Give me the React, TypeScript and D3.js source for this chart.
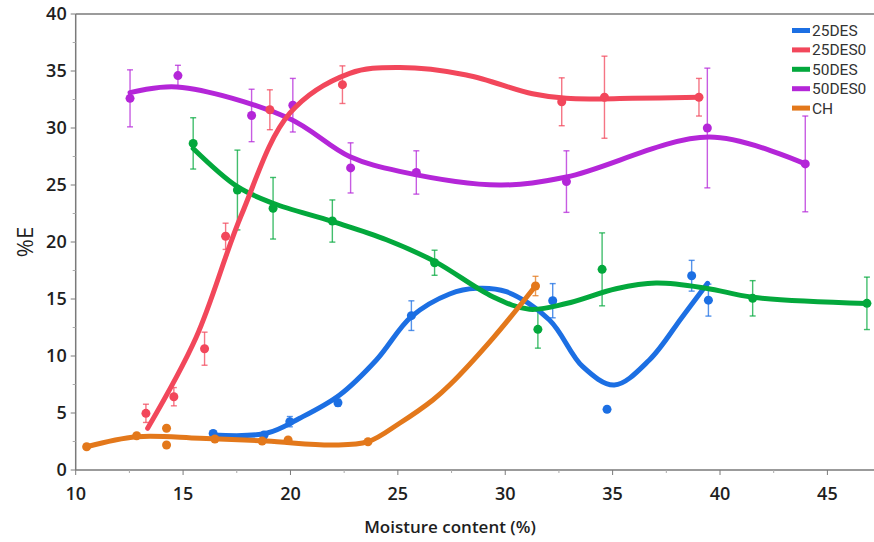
import React from "react";
import * as d3 from "d3";

// ---------- data ----------
const SERIES_NAMES = ["25DES", "25DES0", "50DES", "50DES0", "CH"];
const SERIES_COLORS = ["#1c6fe3", "#f2475b", "#03a83c", "#b426d8", "#e3781b"];

// measured points (moisture %, %E, error)
const DES25_X = [16.4, 18.77, 19.97, 22.21, 25.63, 32.21, 34.74, 38.68, 39.46];
const DES25_Y = [3.2, 3.07, 4.24, 5.9, 13.54, 14.85, 5.32, 17.04, 14.9];
const DES25_E = [0.2, 0.2, 0.45, 0.3, 1.3, 1.5, 0.25, 1.35, 1.4];

const DES250_X = [13.27, 14.57, 16.0, 16.98, 19.04, 22.42, 32.63, 34.62, 39.02];
const DES250_Y = [4.97, 6.43, 10.64, 20.5, 31.6, 33.8, 32.3, 32.7, 32.7];
const DES250_E = [0.8, 0.8, 1.45, 1.15, 1.75, 1.65, 2.1, 3.6, 1.65];

const DES50_X = [15.47, 17.53, 19.19, 21.95, 26.71, 31.52, 34.51, 41.52, 46.84];
const DES50_Y = [28.65, 24.56, 22.96, 21.84, 18.18, 12.34, 17.6, 15.06, 14.62];
const DES50_E = [2.25, 3.5, 2.7, 1.85, 1.1, 1.65, 3.2, 1.55, 2.3];

const DES500_X = [12.53, 14.76, 18.19, 20.11, 22.8, 25.86, 32.85, 39.41, 43.97];
const DES500_Y = [32.6, 34.6, 31.1, 32.0, 26.5, 26.1, 25.3, 30.0, 26.85];
const DES500_E = [2.5, 0.9, 2.3, 2.35, 2.2, 1.9, 2.7, 5.25, 4.2];

const CH_X = [10.51, 12.84, 14.23, 14.23, 16.48, 18.68, 19.89, 23.61, 31.41];
const CH_Y = [2.04, 3.0, 3.66, 2.19, 2.72, 2.54, 2.63, 2.48, 16.14];
const CH_E = [0, 0, 0, 0, 0, 0, 0, 0, 0.85];

// fitted smooth curves
const DES25_FX = [16.4, 18.88, 20.43, 22.29, 24.0, 25.63, 27.41, 28.65, 30.05, 32.06, 33.61, 35.08, 36.71, 38.25, 39.42];
const DES25_FY = [3.07, 3.22, 4.54, 6.58, 9.65, 13.45, 15.44, 15.94, 15.64, 13.16, 9.06, 7.46, 9.65, 13.45, 16.38];

const DES250_FX = [13.35, 15.6, 17.7, 19.97, 22.76, 25.08, 28.19, 31.27, 32.84, 35.92, 39.02];
const DES250_FY = [3.66, 11.6, 22.3, 31.3, 34.8, 35.3, 34.65, 33.0, 32.6, 32.6, 32.7];

const DES50_FX = [15.47, 17.53, 19.19, 21.95, 24.47, 26.71, 29.42, 31.13, 32.84, 35.16, 37.02, 39.35, 41.52, 46.84];
const DES50_FY = [28.2, 24.85, 23.4, 21.8, 20.2, 18.3, 15.2, 14.1, 14.6, 15.9, 16.4, 15.95, 15.15, 14.6];

const DES500_FX = [12.53, 14.71, 19.87, 22.75, 25.08, 29.73, 32.85, 39.5, 43.97];
const DES500_FY = [33.1, 33.6, 30.9, 27.5, 26.2, 25.0, 25.7, 29.2, 26.85];

const CH_FX = [10.51, 12.84, 15.78, 18.88, 21.98, 23.61, 25.08, 26.63, 27.41, 29.42, 31.41];
const CH_FY = [2.04, 2.92, 2.78, 2.54, 2.19, 2.48, 4.1, 6.14, 7.45, 11.55, 16.14];

const X_TICKS = [10, 15, 20, 25, 30, 35, 40, 45];
const X_MINOR = [12.5, 17.5, 22.5, 27.5, 32.5, 37.5, 42.5];
const Y_TICKS = [0, 5, 10, 15, 20, 25, 30, 35, 40];
const Y_MINOR = [2.5, 7.5, 12.5, 17.5, 22.5, 27.5, 32.5, 37.5];

const X_TITLE = "Moisture content (%)";
const Y_TITLE = "%E";

// ---------- layout ----------
const W = 874;
const H = 542;
const X0 = 75.7;
const Y0 = 470;
const YTOP = 14;

export default function App() {
  const x = d3.scaleLinear().domain([10, 47.17]).range([X0, W]);
  const y = d3.scaleLinear().domain([0, 40]).range([Y0, YTOP]);

  const series = [
    { px: DES25_X, py: DES25_Y, pe: DES25_E, fx: DES25_FX, fy: DES25_FY },
    { px: DES250_X, py: DES250_Y, pe: DES250_E, fx: DES250_FX, fy: DES250_FY },
    { px: DES50_X, py: DES50_Y, pe: DES50_E, fx: DES50_FX, fy: DES50_FY },
    { px: DES500_X, py: DES500_Y, pe: DES500_E, fx: DES500_FX, fy: DES500_FY },
    { px: CH_X, py: CH_Y, pe: CH_E, fx: CH_FX, fy: CH_FY },
  ];
  const drawOrder = [0, 3, 2, 1, 4];

  const line = d3
    .line<[number, number]>()
    .x((d) => x(d[0]))
    .y((d) => y(d[1]))
    .curve(d3.curveCatmullRom.alpha(0.5));

  const font = "'Open Sans', 'DejaVu Sans', sans-serif";
  const axisColor = "#7a7a7a";

  return (
    <svg
      width={W}
      height={H}
      style={{ position: "absolute", left: 0, top: 0, background: "#fff" }}
    >
      {/* frame */}
      <line x1={X0} x2={W} y1={YTOP} y2={YTOP} stroke={axisColor} strokeWidth={1.5} />
      <line x1={X0} x2={X0} y1={YTOP} y2={Y0} stroke={axisColor} strokeWidth={1.5} />
      <line x1={X0} x2={W} y1={Y0} y2={Y0} stroke={axisColor} strokeWidth={1.5} />

      {/* y ticks */}
      {Y_TICKS.map((t) => (
        <g key={"yt" + t}>
          <line x1={X0 - 5} x2={X0} y1={y(t)} y2={y(t)} stroke={axisColor} strokeWidth={1} />
          <text
            x={X0 - 9}
            y={y(t)}
            dy="0.35em"
            textAnchor="end"
            fontFamily={font}
            fontSize={18}
            fontWeight={600}
            fill="#1e1e1e"
          >
            {t}
          </text>
        </g>
      ))}
      {Y_MINOR.map((t) => (
        <line key={"ym" + t} x1={X0 - 3} x2={X0} y1={y(t)} y2={y(t)} stroke="#aaa" strokeWidth={1} />
      ))}

      {/* x ticks */}
      {X_TICKS.map((t) => (
        <g key={"xt" + t}>
          <line x1={x(t)} x2={x(t)} y1={Y0} y2={Y0 + 5} stroke={axisColor} strokeWidth={1} />
          <text
            x={x(t)}
            y={Y0 + 30}
            textAnchor="middle"
            fontFamily={font}
            fontSize={18}
            fontWeight={600}
            fill="#1e1e1e"
          >
            {t}
          </text>
        </g>
      ))}
      {X_MINOR.map((t) => (
        <line key={"xm" + t} x1={x(t)} x2={x(t)} y1={Y0} y2={Y0 + 3} stroke="#aaa" strokeWidth={1} />
      ))}

      {/* axis titles */}
      <text
        x={450}
        y={533}
        textAnchor="middle"
        fontFamily={font}
        fontSize={17}
        fontWeight={600}
        fill="#1e1e1e"
      >
        {X_TITLE}
      </text>
      <text
        transform={`translate(33,242) rotate(-90)`}
        textAnchor="middle"
        fontFamily={font}
        fontSize={22}
        fill="#1e1e1e"
      >
        {Y_TITLE}
      </text>

      {/* error bars */}
      {drawOrder.map((si) => {
        const s = series[si];
        const c = SERIES_COLORS[si];
        return (
          <g key={"eb" + si} stroke={c} strokeOpacity={0.75} strokeWidth={1.4}>
            {s.px.map((vx, i) =>
              s.pe[i] > 0 ? (
                <g key={i}>
                  <line x1={x(vx)} x2={x(vx)} y1={y(s.py[i] - s.pe[i])} y2={y(s.py[i] + s.pe[i])} />
                  <line x1={x(vx) - 3} x2={x(vx) + 3} y1={y(s.py[i] - s.pe[i])} y2={y(s.py[i] - s.pe[i])} />
                  <line x1={x(vx) - 3} x2={x(vx) + 3} y1={y(s.py[i] + s.pe[i])} y2={y(s.py[i] + s.pe[i])} />
                </g>
              ) : null
            )}
          </g>
        );
      })}

      {/* curves and points */}
      {drawOrder.map((si) => {
        const s = series[si];
        const c = SERIES_COLORS[si];
        const pts: [number, number][] = s.fx.map((v, i) => [v, s.fy[i]]);
        return (
          <g key={"s" + si}>
            <path d={line(pts) || ""} fill="none" stroke={c} strokeWidth={5} strokeLinecap="round" />
            {s.px.map((vx, i) => (
              <circle key={i} cx={x(vx)} cy={y(s.py[i])} r={4.5} fill={c} />
            ))}
          </g>
        );
      })}

      {/* legend */}
      {SERIES_NAMES.map((name, i) => {
        const ly = 30.5 + i * 19.4;
        return (
          <g key={"lg" + name}>
            <line x1={792} x2={810} y1={ly} y2={ly} stroke={SERIES_COLORS[i]} strokeWidth={5} />
            <text
              x={812}
              y={ly}
              dy="0.36em"
              fontFamily="Roboto, 'Liberation Sans', Arial, sans-serif"
              fontSize={15.5}
              fill="#333"
            >
              {name}
            </text>
          </g>
        );
      })}
    </svg>
  );
}
